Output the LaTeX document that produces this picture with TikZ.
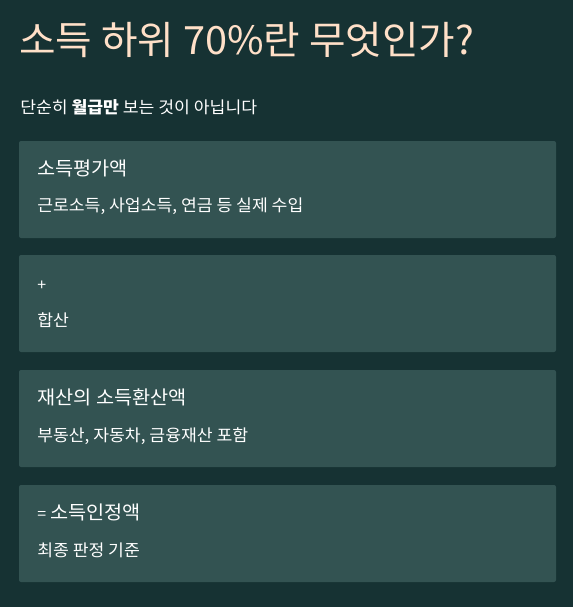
\documentclass[tikz,border=0pt]{standalone}
\usepackage{fontspec}
\setmainfont{Noto Sans CJK KR}
\newfontfamily\kr[FakeStretch=1.04]{Noto Sans CJK KR}
\newfontfamily\krtitle[FakeStretch=1.02]{Noto Sans CJK KR}
\definecolor{bgc}{RGB}{22,50,51}
\definecolor{boxc}{RGB}{51,83,82}
\definecolor{peach}{RGB}{255,224,200}
\begin{document}
\begin{tikzpicture}[x=0.75pt,y=-0.75pt,
  card/.style={fill=boxc,rounded corners=1.5pt},
  txt/.style={anchor=base west,inner sep=0pt,text=white},
  head/.style={txt,font=\kr\fontsize{14.2pt}{16pt}\selectfont},
  detail/.style={txt,font=\kr\fontsize{12.4pt}{14pt}\selectfont}]
\fill[bgc] (0,0) rectangle (573,607);
\useasboundingbox (0,0) rectangle (573,607);
\node[txt,anchor=base west,text=peach,font=\krtitle\fontsize{29.2pt}{32pt}\selectfont] (title) at (19,54) {소득 하위 70\%란 무엇인가?};
\node[detail] (sub) at (20,113) {단순히 \textbf{월급만} 보는 것이 아닙니다};
\path[card] (19,141) rectangle (556,238);
\path[card] (19,255) rectangle (556,352);
\path[card] (19,370) rectangle (556,467);
\path[card] (19,485) rectangle (556,582);
\node[head] (h1) at (37,175) {소득평가액};
\node[detail] (d1) at (37,211) {근로소득, 사업소득, 연금 등 실제 수입};
\node[txt,anchor=west,font=\kr\fontsize{11.5pt}{12pt}\selectfont] (h2) at (37,286) {+};
\node[detail] (d2) at (37,326) {합산};
\node[head] (h3) at (37,404) {재산의 소득환산액};
\node[detail] (d3) at (37,441) {부동산, 자동차, 금융재산 포함};
\node[head] (h4) at (37,519) {{\fontsize{11.5pt}{12pt}\selectfont =} 소득인정액};
\node[detail] (d4) at (37,556) {최종 판정 기준};
\end{tikzpicture}
\end{document}
